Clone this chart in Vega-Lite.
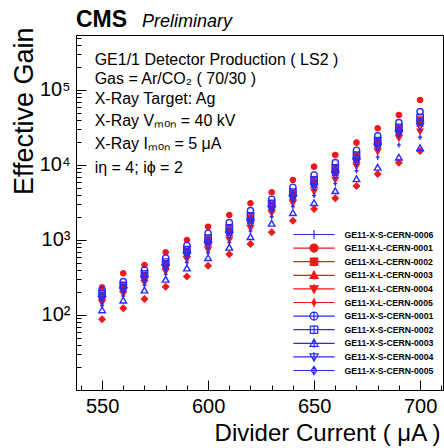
{
  "$schema": "https://vega.github.io/schema/vega-lite/v6.json",
  "width": 367,
  "height": 355,
  "autosize": {"type": "none"},
  "padding": {"left": 76, "top": 35, "right": 1, "bottom": 58},
  "background": "white",
  "config": {
    "font": "Liberation Sans",
    "view": {"stroke": "black", "strokeWidth": 1},
    "axis": {"domainColor": "black", "tickColor": "black", "labelColor": "black", "titleColor": "black", "grid": false, "labelOverlap": false}
  },
  "resolve": {"axis": {"x": "independent", "y": "independent"}, "scale": {"color": "independent", "shape": "independent", "fill": "independent", "size": "independent"}},
  "datasets": {
    "gain": [
      {"s":"GE11-X-L-CERN-0001","x":550,"g":234},{"s":"GE11-X-L-CERN-0001","x":560,"g":360},{"s":"GE11-X-L-CERN-0001","x":570,"g":464},{"s":"GE11-X-L-CERN-0001","x":580,"g":686},{"s":"GE11-X-L-CERN-0001","x":590,"g":1000},{"s":"GE11-X-L-CERN-0001","x":600,"g":1503},{"s":"GE11-X-L-CERN-0001","x":610,"g":2154},{"s":"GE11-X-L-CERN-0001","x":620,"g":3085},{"s":"GE11-X-L-CERN-0001","x":630,"g":4325},{"s":"GE11-X-L-CERN-0001","x":640,"g":6310},{"s":"GE11-X-L-CERN-0001","x":650,"g":9490},{"s":"GE11-X-L-CERN-0001","x":660,"g":13590},{"s":"GE11-X-L-CERN-0001","x":670,"g":19830},{"s":"GE11-X-L-CERN-0001","x":680,"g":30830},{"s":"GE11-X-L-CERN-0001","x":690,"g":46420},{"s":"GE11-X-L-CERN-0001","x":700,"g":73560},
      {"s":"GE11-X-L-CERN-0002","x":550,"g":184},{"s":"GE11-X-L-CERN-0002","x":560,"g":239},{"s":"GE11-X-L-CERN-0002","x":570,"g":340},{"s":"GE11-X-L-CERN-0002","x":580,"g":486},{"s":"GE11-X-L-CERN-0002","x":590,"g":711},{"s":"GE11-X-L-CERN-0002","x":600,"g":1000},{"s":"GE11-X-L-CERN-0002","x":610,"g":1377},{"s":"GE11-X-L-CERN-0002","x":620,"g":1983},{"s":"GE11-X-L-CERN-0002","x":630,"g":2938},{"s":"GE11-X-L-CERN-0002","x":640,"g":4142},{"s":"GE11-X-L-CERN-0002","x":650,"g":5984},{"s":"GE11-X-L-CERN-0002","x":660,"g":8690},{"s":"GE11-X-L-CERN-0002","x":670,"g":12860},{"s":"GE11-X-L-CERN-0002","x":680,"g":20090},{"s":"GE11-X-L-CERN-0002","x":690,"g":30280},{"s":"GE11-X-L-CERN-0002","x":700,"g":40180},
      {"s":"GE11-X-L-CERN-0003","x":550,"g":170},{"s":"GE11-X-L-CERN-0003","x":560,"g":221},{"s":"GE11-X-L-CERN-0003","x":570,"g":313},{"s":"GE11-X-L-CERN-0003","x":580,"g":447},{"s":"GE11-X-L-CERN-0003","x":590,"g":653},{"s":"GE11-X-L-CERN-0003","x":600,"g":903},{"s":"GE11-X-L-CERN-0003","x":610,"g":1236},{"s":"GE11-X-L-CERN-0003","x":620,"g":1775},{"s":"GE11-X-L-CERN-0003","x":630,"g":2697},{"s":"GE11-X-L-CERN-0003","x":640,"g":3756},{"s":"GE11-X-L-CERN-0003","x":650,"g":5412},{"s":"GE11-X-L-CERN-0003","x":660,"g":7800},{"s":"GE11-X-L-CERN-0003","x":670,"g":11660},{"s":"GE11-X-L-CERN-0003","x":680,"g":18250},{"s":"GE11-X-L-CERN-0003","x":690,"g":27470},{"s":"GE11-X-L-CERN-0003","x":700,"g":35560},
      {"s":"GE11-X-L-CERN-0004","x":550,"g":145},{"s":"GE11-X-L-CERN-0004","x":560,"g":191},{"s":"GE11-X-L-CERN-0004","x":570,"g":267},{"s":"GE11-X-L-CERN-0004","x":580,"g":378},{"s":"GE11-X-L-CERN-0004","x":590,"g":550},{"s":"GE11-X-L-CERN-0004","x":600,"g":736},{"s":"GE11-X-L-CERN-0004","x":610,"g":1000},{"s":"GE11-X-L-CERN-0004","x":620,"g":1432},{"s":"GE11-X-L-CERN-0004","x":630,"g":2270},{"s":"GE11-X-L-CERN-0004","x":640,"g":3085},{"s":"GE11-X-L-CERN-0004","x":650,"g":4406},{"s":"GE11-X-L-CERN-0004","x":660,"g":6310},{"s":"GE11-X-L-CERN-0004","x":670,"g":9550},{"s":"GE11-X-L-CERN-0004","x":680,"g":15030},{"s":"GE11-X-L-CERN-0004","x":690,"g":22700},{"s":"GE11-X-L-CERN-0004","x":700,"g":27800},
      {"s":"GE11-X-L-CERN-0005","x":550,"g":88},{"s":"GE11-X-L-CERN-0005","x":560,"g":123},{"s":"GE11-X-L-CERN-0005","x":570,"g":163},{"s":"GE11-X-L-CERN-0005","x":580,"g":238},{"s":"GE11-X-L-CERN-0005","x":590,"g":326},{"s":"GE11-X-L-CERN-0005","x":600,"g":454},{"s":"GE11-X-L-CERN-0005","x":610,"g":645},{"s":"GE11-X-L-CERN-0005","x":620,"g":885},{"s":"GE11-X-L-CERN-0005","x":630,"g":1267},{"s":"GE11-X-L-CERN-0005","x":640,"g":1808},{"s":"GE11-X-L-CERN-0005","x":650,"g":2590},{"s":"GE11-X-L-CERN-0005","x":660,"g":3597},{"s":"GE11-X-L-CERN-0005","x":670,"g":5250},{"s":"GE11-X-L-CERN-0005","x":680,"g":7590},{"s":"GE11-X-L-CERN-0005","x":690,"g":10740},{"s":"GE11-X-L-CERN-0005","x":700,"g":15380},
      {"s":"GE11-X-S-CERN-0001","x":550,"g":215},{"s":"GE11-X-S-CERN-0001","x":560,"g":278},{"s":"GE11-X-S-CERN-0001","x":570,"g":398},{"s":"GE11-X-S-CERN-0001","x":580,"g":575},{"s":"GE11-X-S-CERN-0001","x":590,"g":845},{"s":"GE11-X-S-CERN-0001","x":600,"g":1228},{"s":"GE11-X-S-CERN-0001","x":610,"g":1702},{"s":"GE11-X-S-CERN-0001","x":620,"g":2459},{"s":"GE11-X-S-CERN-0001","x":630,"g":3490},{"s":"GE11-X-S-CERN-0001","x":640,"g":5043},{"s":"GE11-X-S-CERN-0001","x":650,"g":7356},{"s":"GE11-X-S-CERN-0001","x":660,"g":10740},{"s":"GE11-X-S-CERN-0001","x":670,"g":15700},{"s":"GE11-X-S-CERN-0001","x":680,"g":24380},{"s":"GE11-X-S-CERN-0001","x":690,"g":36640},{"s":"GE11-X-S-CERN-0001","x":700,"g":51400},
      {"s":"GE11-X-S-CERN-0002","x":550,"g":191},{"s":"GE11-X-S-CERN-0002","x":560,"g":248},{"s":"GE11-X-S-CERN-0002","x":570,"g":353},{"s":"GE11-X-S-CERN-0002","x":580,"g":507},{"s":"GE11-X-S-CERN-0002","x":590,"g":742},{"s":"GE11-X-S-CERN-0002","x":600,"g":1054},{"s":"GE11-X-S-CERN-0002","x":610,"g":1449},{"s":"GE11-X-S-CERN-0002","x":620,"g":2089},{"s":"GE11-X-S-CERN-0002","x":630,"g":3069},{"s":"GE11-X-S-CERN-0002","x":640,"g":4353},{"s":"GE11-X-S-CERN-0002","x":650,"g":6310},{"s":"GE11-X-S-CERN-0002","x":660,"g":9150},{"s":"GE11-X-S-CERN-0002","x":670,"g":13520},{"s":"GE11-X-S-CERN-0002","x":680,"g":21090},{"s":"GE11-X-S-CERN-0002","x":690,"g":31700},{"s":"GE11-X-S-CERN-0002","x":700,"g":42740},
      {"s":"GE11-X-S-CERN-0003","x":550,"g":117},{"s":"GE11-X-S-CERN-0003","x":560,"g":158},{"s":"GE11-X-S-CERN-0003","x":570,"g":215},{"s":"GE11-X-S-CERN-0003","x":580,"g":299},{"s":"GE11-X-S-CERN-0003","x":590,"g":423},{"s":"GE11-X-S-CERN-0003","x":600,"g":581},{"s":"GE11-X-S-CERN-0003","x":610,"g":800},{"s":"GE11-X-S-CERN-0003","x":620,"g":1107},{"s":"GE11-X-S-CERN-0003","x":630,"g":1670},{"s":"GE11-X-S-CERN-0003","x":640,"g":2312},{"s":"GE11-X-S-CERN-0003","x":650,"g":3144},{"s":"GE11-X-S-CERN-0003","x":660,"g":4540},{"s":"GE11-X-S-CERN-0003","x":670,"g":6550},{"s":"GE11-X-S-CERN-0003","x":680,"g":9310},{"s":"GE11-X-S-CERN-0003","x":690,"g":12680},{"s":"GE11-X-S-CERN-0003","x":700,"g":17020},
      {"s":"GE11-X-S-CERN-0004","x":550,"g":160},{"s":"GE11-X-S-CERN-0004","x":560,"g":210},{"s":"GE11-X-S-CERN-0004","x":570,"g":295},{"s":"GE11-X-S-CERN-0004","x":580,"g":420},{"s":"GE11-X-S-CERN-0004","x":590,"g":612},{"s":"GE11-X-S-CERN-0004","x":600,"g":837},{"s":"GE11-X-S-CERN-0004","x":610,"g":1141},{"s":"GE11-X-S-CERN-0004","x":620,"g":1640},{"s":"GE11-X-S-CERN-0004","x":630,"g":2528},{"s":"GE11-X-S-CERN-0004","x":640,"g":3490},{"s":"GE11-X-S-CERN-0004","x":650,"g":5012},{"s":"GE11-X-S-CERN-0004","x":660,"g":7200},{"s":"GE11-X-S-CERN-0004","x":670,"g":10790},{"s":"GE11-X-S-CERN-0004","x":680,"g":16950},{"s":"GE11-X-S-CERN-0004","x":690,"g":25590},{"s":"GE11-X-S-CERN-0004","x":700,"g":32430},
      {"s":"GE11-X-S-CERN-0005","x":550,"g":177},{"s":"GE11-X-S-CERN-0005","x":560,"g":230},{"s":"GE11-X-S-CERN-0005","x":570,"g":326},{"s":"GE11-X-S-CERN-0005","x":580,"g":466},{"s":"GE11-X-S-CERN-0005","x":590,"g":681},{"s":"GE11-X-S-CERN-0005","x":600,"g":951},{"s":"GE11-X-S-CERN-0005","x":610,"g":1303},{"s":"GE11-X-S-CERN-0005","x":620,"g":1877},{"s":"GE11-X-S-CERN-0005","x":630,"g":2813},{"s":"GE11-X-S-CERN-0005","x":640,"g":3945},{"s":"GE11-X-S-CERN-0005","x":650,"g":5690},{"s":"GE11-X-S-CERN-0005","x":660,"g":8230},{"s":"GE11-X-S-CERN-0005","x":670,"g":12250},{"s":"GE11-X-S-CERN-0005","x":680,"g":19140},{"s":"GE11-X-S-CERN-0005","x":690,"g":28840},{"s":"GE11-X-S-CERN-0005","x":700,"g":37760},
      {"s":"GE11-X-S-CERN-0006","x":550,"g":134},{"s":"GE11-X-S-CERN-0006","x":560,"g":179},{"s":"GE11-X-S-CERN-0006","x":570,"g":248},{"s":"GE11-X-S-CERN-0006","x":580,"g":348},{"s":"GE11-X-S-CERN-0006","x":590,"g":501},{"s":"GE11-X-S-CERN-0006","x":600,"g":677},{"s":"GE11-X-S-CERN-0006","x":610,"g":923},{"s":"GE11-X-S-CERN-0006","x":620,"g":1310},{"s":"GE11-X-S-CERN-0006","x":630,"g":2040},{"s":"GE11-X-S-CERN-0006","x":640,"g":2788},{"s":"GE11-X-S-CERN-0006","x":650,"g":3914},{"s":"GE11-X-S-CERN-0006","x":660,"g":5630},{"s":"GE11-X-S-CERN-0006","x":670,"g":8370},{"s":"GE11-X-S-CERN-0006","x":680,"g":12710},{"s":"GE11-X-S-CERN-0006","x":690,"g":18500},{"s":"GE11-X-S-CERN-0006","x":700,"g":23390}
    ],
    "notes": [
      {"t": "GE1/1 Detector Production ( LS2 )", "x": 546.5, "y": 251000},
      {"t": "Gas = Ar/CO₂ ( 70/30 )", "x": 546.5, "y": 140000},
      {"t": "X-Ray Target: Ag", "x": 546.5, "y": 75900},
      {"t": "X-Ray Vₘₒₙ = 40 kV", "x": 546.5, "y": 38600},
      {"t": "X-Ray Iₘₒₙ = 5 μA", "x": 546.5, "y": 19050},
      {"t": "iη = 4; iϕ = 2", "x": 546.5, "y": 9120}
    ],
    "prelim": [
      {"t": "Preliminary", "x": 568.8, "y": 680000}
    ],
    "cms": [
      {"t": "CMS", "x": 537.7, "y": 680000}
    ]
  },
  "layer": [
    {
      "data": {"name": "gain"},
      "mark": {"type": "point", "opacity": 1, "strokeWidth": 1.4},
      "encoding": {
        "x": {
          "field": "x", "type": "quantitative",
          "scale": {"domain": [537.7, 710.8], "nice": false, "zero": false},
          "axis": {
            "orient": "bottom",
            "values": [550, 600, 650, 700],
            "tickSize": -10,
            "labelPadding": 16,
            "labelFontSize": 20,
            "labelFlush": false,
            "labelOverlap": false,
            "labelBound": false,
            "domainWidth": 1,
            "title": "Divider Current ( μA )",
            "titleFontSize": 24,
            "titleFontWeight": "normal",
            "titleAnchor": "end",
            "titleAlign": "right",
            "titleX": 364,
            "titleY": 50,
            "titleBaseline": "alphabetic"
          }
        },
        "y": {
          "field": "g", "type": "quantitative",
          "scale": {"type": "log", "domain": [10, 540000], "nice": false},
          "axis": {
            "orient": "left",
            "values": [100, 1000, 10000, 100000],
            "labelExpr": "'10' + ['²','³','⁴','⁵'][indexof([100,1000,10000,100000], datum.value)]",
            "tickSize": -10,
            "labelPadding": 16,
            "labelFontSize": 20,
            "labelOverlap": false,
            "labelFlush": false,
            "labelBound": false,
            "title": "Effective Gain",
            "titleFontSize": 27,
            "titleFontWeight": "normal",
            "titleAngle": -90,
            "titleAnchor": "end",
            "titleAlign": "right",
            "titleX": -44,
            "titleY": -8,
            "titleBaseline": "alphabetic"
          }
        },
        "color": {
          "field": "s", "type": "nominal", "legend": null,
          "scale": {
            "domain": ["GE11-X-S-CERN-0006","GE11-X-L-CERN-0001","GE11-X-L-CERN-0002","GE11-X-L-CERN-0003","GE11-X-L-CERN-0004","GE11-X-L-CERN-0005","GE11-X-S-CERN-0001","GE11-X-S-CERN-0002","GE11-X-S-CERN-0003","GE11-X-S-CERN-0004","GE11-X-S-CERN-0005"],
            "range": ["#2a2aff","#f01818","#f01818","#f01818","#f01818","#f01818","#2a2aff","#2a2aff","#2a2aff","#2a2aff","#2a2aff"]
          }
        },
        "fill": {
          "field": "s", "type": "nominal", "legend": null,
          "scale": {
            "domain": ["GE11-X-S-CERN-0006","GE11-X-L-CERN-0001","GE11-X-L-CERN-0002","GE11-X-L-CERN-0003","GE11-X-L-CERN-0004","GE11-X-L-CERN-0005","GE11-X-S-CERN-0001","GE11-X-S-CERN-0002","GE11-X-S-CERN-0003","GE11-X-S-CERN-0004","GE11-X-S-CERN-0005"],
            "range": ["transparent","#f01818","#f01818","#f01818","#f01818","#f01818","transparent","transparent","transparent","transparent","transparent"]
          }
        },
        "shape": {
          "field": "s", "type": "nominal", "legend": null,
          "scale": {
            "domain": ["GE11-X-S-CERN-0006","GE11-X-L-CERN-0001","GE11-X-L-CERN-0002","GE11-X-L-CERN-0003","GE11-X-L-CERN-0004","GE11-X-L-CERN-0005","GE11-X-S-CERN-0001","GE11-X-S-CERN-0002","GE11-X-S-CERN-0003","GE11-X-S-CERN-0004","GE11-X-S-CERN-0005"],
            "range": ["M-0.8,0H0.8M0,-1V1","circle","square","triangle-up","triangle-down","diamond","circle","square","triangle-up","triangle-down","diamond"]
          }
        },
        "size": {
          "field": "s", "type": "nominal", "legend": null,
          "scale": {
            "domain": ["GE11-X-S-CERN-0006","GE11-X-L-CERN-0001","GE11-X-L-CERN-0002","GE11-X-L-CERN-0003","GE11-X-L-CERN-0004","GE11-X-L-CERN-0005","GE11-X-S-CERN-0001","GE11-X-S-CERN-0002","GE11-X-S-CERN-0003","GE11-X-S-CERN-0004","GE11-X-S-CERN-0005"],
            "range": [25,48,40,40,40,28,45,40,40,40,45]
          }
        }
      }
    },
    {
      "data": {"name": "gain"},
      "transform": [{"filter": "datum.x < 0"}],
      "mark": {"type": "point", "opacity": 1, "strokeWidth": 1.2},
      "encoding": {
        "x": {"field": "x", "type": "quantitative", "axis": null},
        "y": {"field": "g", "type": "quantitative", "axis": null},
        "color": {
          "field": "s", "type": "nominal",
          "scale": {
            "domain": ["GE11-X-S-CERN-0006","GE11-X-L-CERN-0001","GE11-X-L-CERN-0002","GE11-X-L-CERN-0003","GE11-X-L-CERN-0004","GE11-X-L-CERN-0005","GE11-X-S-CERN-0001","GE11-X-S-CERN-0002","GE11-X-S-CERN-0003","GE11-X-S-CERN-0004","GE11-X-S-CERN-0005"],
            "range": ["#2a2aff","#f01818","#f01818","#f01818","#f01818","#f01818","#2a2aff","#2a2aff","#2a2aff","#2a2aff","#2a2aff"]
          },
          "legend": {
            "orient": "none",
            "legendX": 233.5,
            "legendY": 195,
            "title": null,
            "padding": 0,
            "symbolSize": 49,
            "symbolStrokeWidth": 1.2,
            "labelFontSize": 8.7,
            "labelFontWeight": "bold",
            "labelFont": "Liberation Sans",
            "labelOffset": 26,
            "labelColor": "black",
            "rowPadding": -1.4,
            "labelLimit": 200
          }
        },
        "fill": {
          "field": "s", "type": "nominal",
          "scale": {
            "domain": ["GE11-X-S-CERN-0006","GE11-X-L-CERN-0001","GE11-X-L-CERN-0002","GE11-X-L-CERN-0003","GE11-X-L-CERN-0004","GE11-X-L-CERN-0005","GE11-X-S-CERN-0001","GE11-X-S-CERN-0002","GE11-X-S-CERN-0003","GE11-X-S-CERN-0004","GE11-X-S-CERN-0005"],
            "range": ["transparent","#f01818","#f01818","#f01818","#f01818","#f01818","transparent","transparent","transparent","transparent","transparent"]
          }
        },
        "shape": {
          "field": "s", "type": "nominal",
          "scale": {
            "domain": ["GE11-X-S-CERN-0006","GE11-X-L-CERN-0001","GE11-X-L-CERN-0002","GE11-X-L-CERN-0003","GE11-X-L-CERN-0004","GE11-X-L-CERN-0005","GE11-X-S-CERN-0001","GE11-X-S-CERN-0002","GE11-X-S-CERN-0003","GE11-X-S-CERN-0004","GE11-X-S-CERN-0005"],
            "range": ["M-5.9,0H5.9M0,-1.3V1.3","M-5.9,0H5.9M0,-1.3V1.3M1.15,0A1.15,1.15 0 1,1 -1.15,0A1.15,1.15 0 1,1 1.15,0Z","M-5.9,0H5.9M0,-1.3V1.3M-1.05,-1.05H1.05V1.05H-1.05Z","M-5.9,0H5.9M0,-1.3V1.3M0,-1.25L1.15,0.85H-1.15Z","M-5.9,0H5.9M0,-1.3V1.3M0,1.25L1.15,-0.85H-1.15Z","M-5.9,0H5.9M0,-1.3V1.3M0,-0.9L0.6,0L0,0.9L-0.6,0Z","M-5.9,0H5.9M0,-1.3V1.3M1.15,0A1.15,1.15 0 1,1 -1.15,0A1.15,1.15 0 1,1 1.15,0Z","M-5.9,0H5.9M0,-1.3V1.3M-1.05,-1.05H1.05V1.05H-1.05Z","M-5.9,0H5.9M0,-1.3V1.3M0,-1.25L1.15,0.85H-1.15Z","M-5.9,0H5.9M0,-1.3V1.3M0,1.25L1.15,-0.85H-1.15Z","M-5.9,0H5.9M0,-1.3V1.3M0,-1.2L0.8,0L0,1.2L-0.8,0Z"]
          }
        }
      }
    },
    {
      "data": {"name": "notes"},
      "mark": {"type": "text", "align": "left", "baseline": "middle", "fontSize": 16, "font": "Liberation Sans", "color": "black"},
      "encoding": {
        "x": {
          "field": "x", "type": "quantitative",
          "axis": {
            "orient": "bottom",
            "values": [540,560,570,580,590,610,620,630,640,660,670,680,690,710],
            "tickSize": -5,
            "labels": false,
            "domain": false,
            "title": null
          }
        },
        "y": {
          "field": "y", "type": "quantitative",
          "axis": {
            "orient": "left",
            "values": [20,30,40,50,60,70,80,90,200,300,400,500,600,700,800,900,2000,3000,4000,5000,6000,7000,8000,9000,20000,30000,40000,50000,60000,70000,80000,90000,200000,300000,400000,500000],
            "tickSize": -5,
            "labels": false,
            "domain": false,
            "title": null
          }
        },
        "text": {"field": "t"}
      }
    },
    {
      "data": {"name": "prelim"},
      "mark": {"type": "text", "align": "left", "baseline": "alphabetic", "fontSize": 18, "fontStyle": "italic", "font": "Liberation Sans", "color": "black"},
      "encoding": {
        "x": {"field": "x", "type": "quantitative", "axis": null},
        "y": {"field": "y", "type": "quantitative", "axis": null},
        "text": {"field": "t"}
      }
    },
    {
      "data": {"name": "cms"},
      "mark": {"type": "text", "align": "left", "baseline": "alphabetic", "fontSize": 23, "fontWeight": "bold", "font": "Liberation Sans", "color": "black"},
      "encoding": {
        "x": {"field": "x", "type": "quantitative", "axis": null},
        "y": {"field": "y", "type": "quantitative", "axis": null},
        "text": {"field": "t"}
      }
    }
  ]
}
